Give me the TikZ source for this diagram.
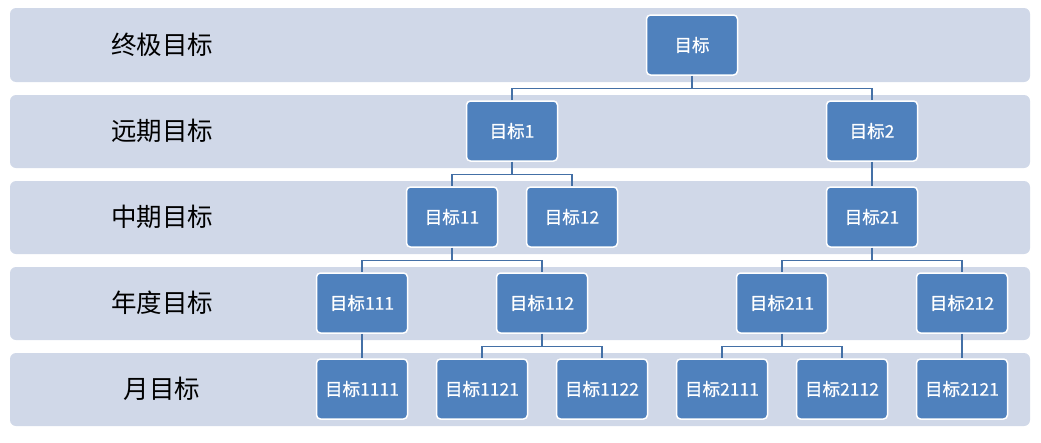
\documentclass[tikz,border=0pt]{standalone}
\usepackage{fontspec}
\usepackage[HTML]{xcolor}
\usepackage{tikz}
\usetikzlibrary{positioning}
\newfontfamily\cjk{Noto Sans CJK SC}
\newfontfamily\cjkbox[FakeBold=0.8]{Noto Sans CJK SC}

\definecolor{bandcol}{HTML}{D0D8E8}
\definecolor{boxcol}{HTML}{4F81BD}
\definecolor{linkcol}{HTML}{4470A6}

\tikzset{
  band/.style={fill=bandcol, rounded corners=6pt},
  level/.style={font=\cjk\fontsize{25.5}{30}\selectfont, text=black},
  goal/.style={draw=white, line width=1.5pt, fill=boxcol, rounded corners=4pt,
    minimum width=91pt, minimum height=60pt, inner sep=0pt,
    font=\cjkbox\fontsize{17.5}{21}\selectfont, text=white},
  link/.style={draw=linkcol, line width=1.4pt}
}

\begin{document}
\begin{tikzpicture}[x=1pt, y=-1pt]
\useasboundingbox (0,0) rectangle (1041,442);

% Bands (one per level)
\fill[band] (10,8) rectangle (1030,82);
\fill[band] (10,95) rectangle (1030,168);
\fill[band] (10,181) rectangle (1030,254);
\fill[band] (10,267) rectangle (1030,340);
\fill[band] (10,353) rectangle (1030,426);

% Level names
\node[level] (l0) at (162,45) {终极目标};
\node[level] (l1) at (162,131) {远期目标};
\node[level] (l2) at (162,217) {中期目标};
\node[level] (l3) at (162,303) {年度目标};
\node[level] (l4) at (162,389) {月目标};

% Goals
\node[goal] (g) at (692,45) {目标};

\node[goal] (g1) at (512,131) {目标1};
\node[goal] (g2) at (872,131) {目标2};

\node[goal] (g11) at (452,217) {目标11};
\node[goal] (g12) at (572,217) {目标12};
\node[goal] (g21) at (872,217) {目标21};

\node[goal] (g111) at (362,303) {目标111};
\node[goal] (g112) at (542,303) {目标112};
\node[goal] (g211) at (782,303) {目标211};
\node[goal] (g212) at (962,303) {目标212};

\node[goal] (g1111) at (362,389) {目标1111};
\node[goal] (g1121) at (482,389) {目标1121};
\node[goal] (g1122) at (602,389) {目标1122};
\node[goal] (g2111) at (722,389) {目标2111};
\node[goal] (g2112) at (842,389) {目标2112};
\node[goal] (g2121) at (962,389) {目标2121};

% Links (elbow down to the children)
\draw[link] (g.south) -- ++(0,13) -| (g1.north);
\draw[link] (g.south) -- ++(0,13) -| (g2.north);

\draw[link] (g1.south) -- ++(0,13) -| (g11.north);
\draw[link] (g1.south) -- ++(0,13) -| (g12.north);
\draw[link] (g2.south) -- (g21.north);

\draw[link] (g11.south) -- ++(0,13) -| (g111.north);
\draw[link] (g11.south) -- ++(0,13) -| (g112.north);
\draw[link] (g21.south) -- ++(0,13) -| (g211.north);
\draw[link] (g21.south) -- ++(0,13) -| (g212.north);

\draw[link] (g111.south) -- (g1111.north);
\draw[link] (g112.south) -- ++(0,13) -| (g1121.north);
\draw[link] (g112.south) -- ++(0,13) -| (g1122.north);
\draw[link] (g211.south) -- ++(0,13) -| (g2111.north);
\draw[link] (g211.south) -- ++(0,13) -| (g2112.north);
\draw[link] (g212.south) -- (g2121.north);

\end{tikzpicture}
\end{document}
